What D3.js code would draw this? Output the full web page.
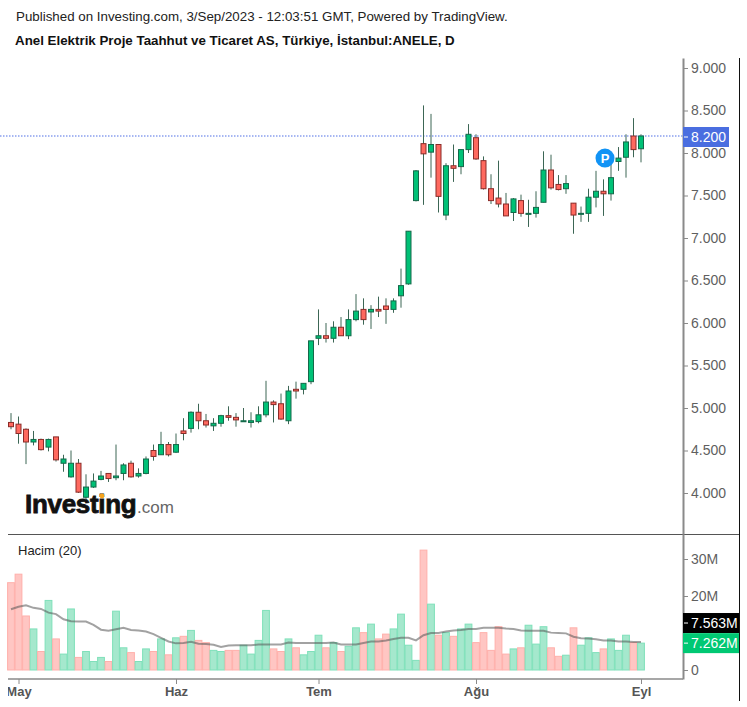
<!DOCTYPE html>
<html>
<head>
<meta charset="utf-8">
<script src="https://cdn.jsdelivr.net/npm/d3@7"></script>
<style>
  html, body { margin: 0; padding: 0; background: #fff; }
  svg { display: block; font-family: "Liberation Sans", Arial, sans-serif; }
</style>
</head>
<body>
<svg id="chart" width="747" height="707"></svg>
<script>
// daily candles
const opens = [4.83,4.81,4.75,4.60,4.63,4.54,4.66,4.35,4.19,4.35,3.95,4.07,4.16,4.23,4.18,4.23,4.35,4.20,4.23,4.50,
  4.45,4.57,4.48,4.73,4.76,4.95,4.85,4.79,4.82,4.91,4.89,4.84,4.83,4.84,4.92,5.07,5.05,4.85,5.22,5.22,
  5.31,5.82,5.85,5.82,5.95,5.85,6.04,6.16,6.13,6.16,6.20,6.16,6.32,6.46,7.44,8.11,8.01,8.10,7.27,7.85,
  7.84,8.04,8.18,7.91,7.58,7.47,7.40,7.30,7.44,7.28,7.29,7.42,7.80,7.63,7.58,7.41,7.28,7.29,7.48,7.55,
  7.52,7.90,7.95,8.20,8.05];
const highs = [4.94,4.90,4.76,4.73,4.64,4.64,4.66,4.45,4.50,4.40,4.22,4.23,4.26,4.23,4.57,4.35,4.38,4.29,4.43,4.57,
  4.72,4.60,4.70,4.88,4.96,5.05,4.93,4.88,4.92,5.02,4.94,5.00,4.95,5.02,5.32,5.09,5.17,5.26,5.31,5.29,
  5.79,6.16,6.00,6.02,6.07,6.16,6.34,6.29,6.21,6.31,6.29,6.29,6.64,7.08,7.80,8.56,8.46,8.10,7.88,8.10,
  8.04,8.34,8.22,7.96,7.75,7.91,7.53,7.47,7.51,7.45,7.55,8.02,7.98,7.74,7.74,7.41,7.37,7.58,7.79,7.69,
  7.87,8.07,8.22,8.41,8.22];
const lows = [4.75,4.58,4.34,4.56,4.50,4.49,4.37,4.25,4.18,4.00,3.92,4.06,4.15,4.13,4.15,4.15,4.18,4.18,4.22,4.38,
  4.45,4.43,4.47,4.62,4.71,4.75,4.77,4.73,4.78,4.85,4.78,4.84,4.77,4.82,4.89,4.83,4.86,4.81,5.11,5.16,
  5.28,5.74,5.77,5.77,5.85,5.81,6.02,5.98,5.93,6.07,5.99,6.12,6.18,6.45,7.43,7.39,7.71,7.30,7.21,7.66,
  7.75,8.00,7.92,7.57,7.40,7.36,7.26,7.20,7.25,7.13,7.24,7.42,7.57,7.56,7.52,7.05,7.19,7.19,7.36,7.26,
  7.44,7.79,7.71,7.95,7.89];
const closes = [4.78,4.70,4.60,4.63,4.51,4.63,4.39,4.40,4.35,4.01,4.07,4.14,4.20,4.17,4.20,4.33,4.19,4.23,4.40,4.43,
  4.57,4.45,4.57,4.70,4.95,4.85,4.80,4.82,4.91,4.89,4.86,4.85,4.85,4.92,5.07,5.04,4.87,5.20,5.20,5.29,
  5.79,5.85,5.82,5.95,5.85,6.04,6.14,6.04,6.16,6.14,6.16,6.26,6.44,7.08,7.79,7.99,8.10,7.49,7.85,7.82,
  8.04,8.22,7.93,7.58,7.44,7.40,7.26,7.46,7.29,7.29,7.36,7.80,7.59,7.57,7.64,7.27,7.29,7.48,7.55,7.52,
  7.71,7.94,8.13,8.04,8.20];

// volume in millions and its 20 day average
const volumes = [23.6,25.9,14.6,11.1,5.0,18.8,8.4,4.3,16.5,3.4,5.0,2.3,3.4,2.3,15.9,6.0,4.7,2.3,5.7,5.0,
  8.4,4.1,8.7,9.1,10.7,8.0,7.4,5.3,5.0,5.3,5.3,6.7,4.3,8.0,16.1,5.7,5.0,8.4,6.0,4.1,
  5.0,9.4,6.0,7.4,5.0,6.4,11.4,10.1,12.4,8.4,9.7,11.1,15.1,6.7,2.6,32.4,17.8,9.4,10.1,9.1,
  11.1,12.4,7.4,10.1,5.3,11.7,4.3,5.7,6.0,12.1,7.0,11.7,6.0,3.7,4.0,11.4,6.7,8.7,4.7,5.7,
  8.4,5.3,9.4,7.4,7.262];
const volumeAvg = [16.4,17.1,17.5,16.8,16.5,15.5,15.1,13.7,13.2,13.1,13.1,12.2,10.9,10.6,11.0,11.4,10.8,10.7,10.4,9.7,
  8.7,7.7,7.2,7.3,7.6,7.1,7.0,6.8,6.2,6.6,6.7,6.7,6.7,6.9,6.9,6.9,6.9,7.4,7.3,7.3,
  7.3,7.3,7.3,7.4,6.9,6.9,6.9,7.3,7.7,7.7,8.0,8.4,8.7,8.7,8.0,9.4,10.0,10.0,10.4,10.7,
  10.8,11.1,11.1,11.4,11.4,11.4,11.2,11.1,10.7,10.6,10.6,10.6,10.1,10.0,9.9,9.0,8.6,8.5,8.3,8.0,
  8.0,7.7,7.7,7.6,7.563];

const priceTicks = [4,4.5,5,5.5,6,6.5,7,7.5,8,8.5,9];
const volumeTicks = [0,20,30];
const monthIndex = [1,22,41,62,84];
const monthLabels = ["May","Haz","Tem","Ağu","Eyl"];
const lastPrice = 8.2;

const green = "#00c176", greenEdge = "#14694a";
const red = "#ff695f", redEdge = "#8a2c28";
const wick = "#3c6655";
const axisGrey = "#8a8a8a", tickText = "#5f5f5f";

const svg = d3.select("#chart");
const axisX = 683;
const up = i => closes[i] >= opens[i];

const x = d3.scaleLinear().domain([0, 84]).range([11, 641]);
const y = d3.scaleLinear().domain([4, 9]).range([493, 68]);
const yVol = d3.scaleLinear().domain([0, 30]).range([670, 559]);

// clip so the May label gets cut at the left like the original
svg.append("defs").append("clipPath").attr("id", "pane")
    .append("rect").attr("x", 8).attr("y", 0).attr("width", 739).attr("height", 707);

// header
svg.append("text").attr("x", 16).attr("y", 21).attr("font-size", 13.33).attr("fill", "#222")
    .text("Published on Investing.com, 3/Sep/2023 - 12:03:51 GMT, Powered by TradingView.");
svg.append("text").attr("x", 15).attr("y", 45).attr("font-size", 13.33).attr("font-weight", "bold").attr("fill", "#111")
    .text("Anel Elektrik Proje Taahhut ve Ticaret AS, Türkiye, İstanbul:ANELE, D");

// logo
const logo = svg.append("g");
logo.append("text").attr("x", 25).attr("y", 513).attr("font-size", 26).attr("font-weight", "bold")
    .attr("fill", "#111").attr("stroke", "#111").attr("stroke-width", 0.8).attr("letter-spacing", -0.3).text("Investing");
logo.append("text").attr("x", 137).attr("y", 513).attr("font-size", 17).attr("fill", "#666").text(".com");
logo.append("circle").attr("cx", 102).attr("cy", 496).attr("r", 2.4).attr("fill", "#f7a41d");

// last price line
svg.append("line").attr("x1", 0).attr("x2", axisX)
    .attr("y1", y(lastPrice)).attr("y2", y(lastPrice))
    .attr("stroke", "#8aa0ee").attr("stroke-width", 1.5).attr("stroke-dasharray", "1.5,1.5");

// candles
const candles = svg.append("g");
candles.selectAll("line").data(opens).join("line")
    .attr("x1", (d, i) => x(i)).attr("x2", (d, i) => x(i))
    .attr("y1", (d, i) => y(highs[i])).attr("y2", (d, i) => y(lows[i]))
    .attr("stroke", wick).attr("stroke-width", 1);
candles.selectAll("rect").data(opens).join("rect")
    .attr("x", (d, i) => x(i) - 2.5).attr("width", 5)
    .attr("y", (d, i) => y(Math.max(opens[i], closes[i])))
    .attr("height", (d, i) => Math.max(1, Math.abs(y(opens[i]) - y(closes[i]))))
    .attr("fill", (d, i) => up(i) ? green : red)
    .attr("stroke", (d, i) => up(i) ? greenEdge : redEdge)
    .attr("stroke-width", 1);

// P marker
const pin = svg.append("g").attr("transform", `translate(${x(79.2)},${y(7.94)})`);
pin.append("circle").attr("r", 9.5).attr("fill", "#1193f5");
pin.append("text").attr("text-anchor", "middle").attr("y", 5).attr("font-size", 13)
    .attr("font-weight", "bold").attr("fill", "#fff").text("P");

// volume pane
svg.append("text").attr("x", 18).attr("y", 555).attr("font-size", 13).attr("fill", "#222").text("Hacim (20)");
svg.append("g").selectAll("rect").data(volumes).join("rect")
    .attr("x", (d, i) => x(i) - 3.4).attr("width", 6.8)
    .attr("y", d => yVol(d)).attr("height", d => yVol(0) - yVol(d))
    .attr("fill", (d, i) => up(i) ? "#a5e8cd" : "#ffc6c3")
    .attr("stroke", (d, i) => up(i) ? "#7fe0ba" : "#ffb0ab")
    .attr("stroke-width", 1);
svg.append("path").datum(volumeAvg)
    .attr("fill", "none").attr("stroke", "#555").attr("stroke-opacity", 0.55).attr("stroke-width", 2)
    .attr("d", d3.line().x((d, i) => x(i)).y(d => yVol(d)));

// frame lines
svg.append("line").attr("x1", 8).attr("x2", 740).attr("y1", 534.5).attr("y2", 534.5).attr("stroke", "#555").attr("stroke-width", 1);
svg.append("line").attr("x1", 8).attr("x2", axisX).attr("y1", 679).attr("y2", 679).attr("stroke", axisGrey).attr("stroke-width", 1.5);
svg.append("line").attr("x1", 739.5).attr("x2", 739.5).attr("y1", 58).attr("y2", 701).attr("stroke", "#111").attr("stroke-width", 1);

// axes
function styleAxis(g) {
  g.selectAll("path").attr("stroke", axisGrey).attr("stroke-width", 2);
  g.selectAll("line").attr("stroke", axisGrey);
  g.selectAll("text").attr("fill", tickText).attr("font-size", 14)
      .attr("font-family", '"Liberation Sans", Arial, sans-serif');
}
const axisOuter = d3.scaleLinear().domain([y.invert(58), y.invert(534)]).range([58, 534]);
svg.append("g").attr("transform", `translate(${axisX},0)`)
    .call(d3.axisRight(axisOuter).tickValues(priceTicks).tickFormat(d3.format(".3f")).tickSize(5).tickSizeOuter(0).tickPadding(3))
    .call(styleAxis);
const volOuter = d3.scaleLinear().domain([yVol.invert(534), yVol.invert(679)]).range([534, 679]);
svg.append("g").attr("transform", `translate(${axisX},0)`)
    .call(d3.axisRight(volOuter).tickValues(volumeTicks).tickFormat(d => d ? d + "M" : "0").tickSize(5).tickSizeOuter(0).tickPadding(3))
    .call(styleAxis);

const xAxis = svg.append("g").attr("transform", "translate(0,679)").attr("clip-path", "url(#pane)")
    .call(d3.axisBottom(x).tickValues(monthIndex).tickFormat((d, i) => monthLabels[i]).tickSize(5).tickPadding(3));
xAxis.select("path").remove();
xAxis.selectAll("line").attr("stroke", axisGrey);
xAxis.selectAll("text").attr("fill", "#555").attr("font-size", 13).attr("font-weight", "bold")
    .attr("font-family", '"Liberation Sans", Arial, sans-serif');

// value tags on the axis, pushed apart when they would collide
function tag(yPos, w, fill, label) {
  svg.append("rect").attr("x", axisX).attr("y", yPos - 10).attr("width", w).attr("height", 20).attr("fill", fill);
  svg.append("line").attr("x1", axisX + 1).attr("x2", axisX + 5).attr("y1", yPos).attr("y2", yPos).attr("stroke", "#fff");
  svg.append("text").attr("x", axisX + 8).attr("y", yPos + 5).attr("font-size", 14).attr("fill", "#fff").text(label);
}
tag(y(lastPrice) + 1, 46, "#4a6ee0", "8.200");
tag(yVol(7.563) - 19, 56, "#000", "7.563M");
tag(yVol(7.262), 56, "#00c873", "7.262M");
</script>
</body>
</html>
